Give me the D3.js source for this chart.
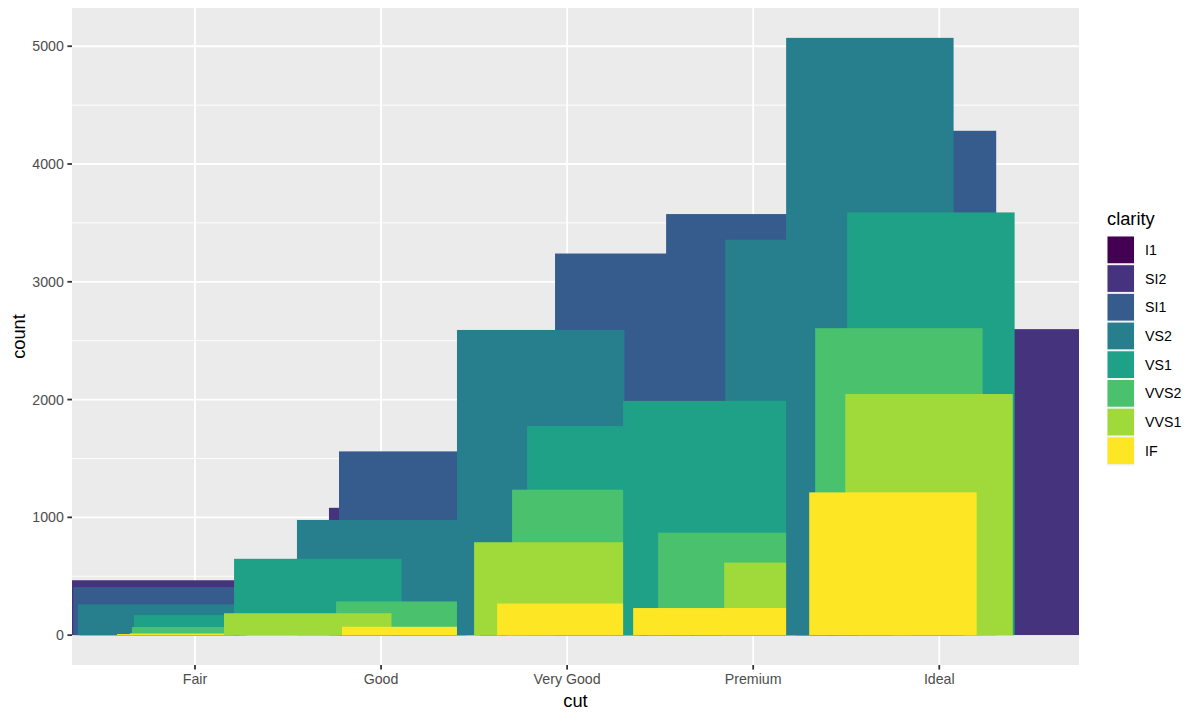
<!DOCTYPE html>
<html>
<head>
<meta charset="utf-8">
<script src="https://cdn.jsdelivr.net/npm/d3@7"></script>
<style>
  body { margin: 0; background: #fff; }
  svg { font-family: "Liberation Sans", Arial, sans-serif; }
</style>
</head>
<body>
<div id="graphic"></div>
<script>
const cuts = ["Fair", "Good", "Very Good", "Premium", "Ideal"];
const clarities = ["I1", "SI2", "SI1", "VS2", "VS1", "VVS2", "VVS1", "IF"];
const fills = ["#440154", "#46337E", "#365C8D", "#277F8E", "#1FA187", "#4AC16D", "#9FDA3A", "#FDE725"];

// counts per cut, in clarity order
const countFair     = [210, 466, 408, 261, 170, 69, 17, 9];
const countGood     = [96, 1081, 1560, 978, 648, 286, 186, 71];
const countVeryGood = [84, 2100, 3240, 2591, 1775, 1235, 789, 268];
const countPremium  = [205, 2949, 3575, 3357, 1989, 870, 616, 230];
const countIdeal    = [146, 2598, 4282, 5071, 3589, 2606, 2047, 1212];

// jittered bar centres, in cut units (Fair = 1 ... Ideal = 5)
const posFair     = [0.832, 0.789, 0.796, 0.821, 1.122, 1.111, 1.100, 1.031];
const posGood     = [2.014, 2.170, 2.224, 1.998, 1.660, 2.208, 1.606, 2.240];
const posVeryGood = [2.982, 3.090, 3.385, 2.858, 3.235, 3.154, 2.950, 3.074];
const posPremium  = [3.842, 4.111, 3.982, 4.300, 3.751, 3.939, 4.294, 3.805];
const posIdeal    = [4.681, 5.301, 4.856, 4.627, 4.955, 4.783, 4.945, 4.751];

const yTicks = [0, 1000, 2000, 3000, 4000, 5000];
const BAR_W = 0.9;

const W = 1200, H = 720;
const panel = {left: 72, right: 1079, top: 8, bottom: 665};
const TICK = 4.6;
const SMALL = 14.2, BIG = 18.3;

const counts = [countFair, countGood, countVeryGood, countPremium, countIdeal];
const positions = [posFair, posGood, posVeryGood, posPremium, posIdeal];

// drawing order: cut first, then clarity
var data = [];
cuts.forEach(function(c, i){
    clarities.forEach(function(k, j){
        data.push({cut: c, clarity: k, ci: j, count: counts[i][j], pos: positions[i][j]});
    });
});

var xmin = d3.min(data, d => d.pos - BAR_W/2),
    xmax = d3.max(data, d => d.pos + BAR_W/2);
xmin = Math.min(xmin, 0.4);
xmax = Math.max(xmax, 5.6);

var x = d3.scaleLinear().domain([xmin, xmax]).range([panel.left, panel.right]);

var ymaxData = d3.max(data, d => d.count);
var y = d3.scaleLinear()
    .domain([-ymaxData * 0.05, ymaxData * 1.05])
    .range([panel.bottom, panel.top]);

var svg = d3.select("#graphic").append("svg")
    .attr("width", W).attr("height", H);

svg.append("rect")
    .attr("x", panel.left).attr("y", panel.top)
    .attr("width", panel.right - panel.left)
    .attr("height", panel.bottom - panel.top)
    .attr("fill", "#EBEBEB");

// minor grid
var minor = d3.range(500, ymaxData * 1.05, 1000);
svg.selectAll(".minor").data(minor).enter().append("line")
    .attr("x1", panel.left).attr("x2", panel.right)
    .attr("y1", d => y(d)).attr("y2", d => y(d))
    .attr("stroke", "#fff").attr("stroke-width", 0.9);

svg.selectAll(".majorY").data(yTicks).enter().append("line")
    .attr("x1", panel.left).attr("x2", panel.right)
    .attr("y1", d => y(d)).attr("y2", d => y(d))
    .attr("stroke", "#fff").attr("stroke-width", 1.8);

svg.selectAll(".majorX").data(cuts).enter().append("line")
    .attr("x1", (d,i) => x(i+1)).attr("x2", (d,i) => x(i+1))
    .attr("y1", panel.top).attr("y2", panel.bottom)
    .attr("stroke", "#fff").attr("stroke-width", 1.8);

var g = svg.append("g");
g.selectAll("rect").data(data).enter().append("rect")
    .attr("x", d => x(d.pos - BAR_W/2))
    .attr("width", d => x(d.pos + BAR_W/2) - x(d.pos - BAR_W/2))
    .attr("y", d => y(d.count))
    .attr("height", d => y(0) - y(d.count))
    .attr("fill", d => fills[d.ci]);

// y axis
var yAxis = svg.append("g");
yAxis.selectAll("line").data(yTicks).enter().append("line")
    .attr("x1", panel.left - TICK).attr("x2", panel.left)
    .attr("y1", d => y(d)).attr("y2", d => y(d))
    .attr("stroke", "#333").attr("stroke-width", 1.8);
yAxis.selectAll("text").data(yTicks).enter().append("text")
    .attr("x", panel.left - TICK - 3.5).attr("y", d => y(d))
    .attr("dy", "0.35em").attr("text-anchor", "end")
    .attr("font-size", SMALL).attr("fill", "#4D4D4D")
    .text(d => d);

// x axis
var xAxis = svg.append("g");
xAxis.selectAll("line").data(cuts).enter().append("line")
    .attr("x1", (d,i) => x(i+1)).attr("x2", (d,i) => x(i+1))
    .attr("y1", panel.bottom).attr("y2", panel.bottom + TICK)
    .attr("stroke", "#333").attr("stroke-width", 1.8);
xAxis.selectAll("text").data(cuts).enter().append("text")
    .attr("x", (d,i) => x(i+1)).attr("y", 684)
    .attr("text-anchor", "middle")
    .attr("font-size", SMALL).attr("fill", "#4D4D4D")
    .text(d => d);

svg.append("text")
    .attr("x", (panel.left + panel.right)/2).attr("y", 707)
    .attr("text-anchor", "middle").attr("font-size", BIG).attr("fill", "#000")
    .text("cut");
svg.append("text")
    .attr("transform", `translate(24.5,${(panel.top + panel.bottom)/2}) rotate(-90)`)
    .attr("text-anchor", "middle").attr("font-size", BIG).attr("fill", "#000")
    .text("count");

// legend
var leg = svg.append("g").attr("transform", "translate(1107,0)");
leg.append("text").attr("x", 0).attr("y", 225)
    .attr("font-size", BIG).attr("fill", "#000").text("clarity");
var items = leg.selectAll(".key").data(clarities).enter().append("g")
    .attr("transform", (d,i) => `translate(0,${236 + i*28.7})`);
items.append("rect").attr("width", 27.5).attr("height", 28.7).attr("fill", "#F2F2F2");
items.append("rect").attr("x", 0.5).attr("y", 0.5).attr("width", 26.5).attr("height", 26.7)
    .attr("fill", (d,i) => fills[i]);
items.append("text").attr("x", 38).attr("y", 14).attr("dy", "0.35em")
    .attr("font-size", SMALL).attr("fill", "#000").text(d => d);
</script>
</body>
</html>
